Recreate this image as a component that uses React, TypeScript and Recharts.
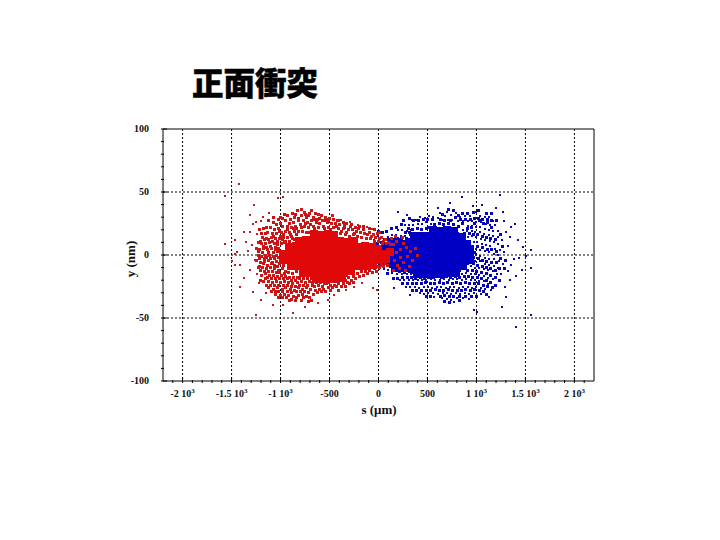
import React from "react";
import { ScatterChart, Scatter, XAxis, YAxis, CartesianGrid } from "recharts";

type P = [number, number];

const title = "正面衝突";
const xTicks = [-2100,-2000,-1900,-1800,-1700,-1600,-1500,-1400,-1300,-1200,-1100,-1000,-900,-800,-700,-600,-500,-400,-300,-200,-100,0,100,200,300,400,500,600,700,800,900,1000,1100,1200,1300,1400,1500,1600,1700,1800,1900,2000,2100];
const xMajor = [-2000,-1500,-1000,-500,0,500,1000,1500,2000];
const xBase = ["-2 10","-1.5 10","-1 10","-500","0","500","1 10","1.5 10","2 10"];
const xExp = ["3","3","3","","","","3","3","3"];
const yTicks = [-100,-90,-80,-70,-60,-50,-40,-30,-20,-10,0,10,20,30,40,50,60,70,80,90,100];
const yMajor = [-100,-50,0,50,100];

const redOuter: P[] = [[-1420,56],[-1570,47],[-1275,40],[-1030,45],[-980,46],[-1255,-48],[-870,-46],[-980,-40],[-1080,-40],[-755,-41],[-1570,9],[-1500,-5],[-1470,1],[-1445,2],[-1410,-25],[-1370,-18],[-1470,-8],[-1410,-8],[-1315,18],[-1285,25],[-1255,26],[-1315,32],[-1375,18],[-1350,10],[-1470,12],[-1195,-36],[-1285,-29],[-1310,-12],[-1330,3],[-1290,8],[-1265,-4],[-1240,17],[-1225,-22],[-1240,-15],[-1200,27],[-1180,30],[-1150,-30],[-1120,33],[-620,-38],[-520,-36],[-450,-32],[-330,-28],[-250,-25],[-170,-22],[-60,-26],[-20,-28],[-380,28],[-290,26],[-210,24],[-120,22],[-70,21]];

const redCoreMarks: P[] = [
[-660,17],[-590,16],[-520,17],[-450,16],
[-810,11],[-740,12],[-670,11],[-600,11],[-530,12],[-460,11],[-390,11],[-320,10],[-250,11],
[-910,6],[-840,7],[-770,6],[-700,6],[-630,6],[-560,6],[-490,6],[-420,7],[-350,6],[-280,6],[-210,6],[-140,7],[-70,6],[-10,5],
[-980,1],[-910,1],[-840,1],[-770,1],[-700,1],[-630,1],[-560,1],[-490,1],[-420,1],[-350,1],[-280,1],[-210,1],[-140,1],[-70,1],[0,1],[70,1],[120,2],
[-970,-4],[-900,-4],[-830,-4],[-760,-4],[-690,-4],[-620,-4],[-550,-4],[-480,-4],[-410,-4],[-340,-4],[-270,-4],[-200,-4],[-130,-4],[-60,-4],[10,-4],[80,-3],
[-890,-9],[-820,-9],[-750,-9],[-680,-9],[-610,-9],[-540,-9],[-470,-9],[-400,-9],[-330,-9],[-260,-9],[-190,-9],[-120,-9],[-60,-8],
[-770,-14],[-700,-14],[-630,-14],[-560,-14],[-490,-14],[-420,-14],[-350,-14],[-280,-13],
[-640,-19],[-570,-19],[-500,-19],[-430,-19],[-370,-18]
];

const redHalo: P[] = [
[-790,36],[-760,34],[-830,35],[-700,33],[-680,35],[-640,33],[-610,32],[-860,30],[-790,31],[-735,30],[-660,30],[-585,31],[-540,30],[-500,29],[-465,31],[-420,27],[-900,28],[-950,27],[-1000,25],[-1045,24],[-870,26],[-820,27],[-770,27],[-720,26],[-680,27],[-630,26],[-575,27],[-525,26],[-480,25],[-440,25],[-395,24],[-345,24],
[-1100,22],[-1060,20],[-1020,21],[-975,23],[-930,23],[-890,22],[-850,23],[-800,24],[-760,23],[-710,22],[-660,23],[-610,22],[-560,23],[-510,22],[-455,22],[-405,21],[-360,21],[-310,20],[-265,20],[-225,19],[-180,18],[-140,17],[-95,18],[-50,16],[-10,17],[30,14],[70,12],
[-1130,18],[-1085,17],[-1040,17],[-990,18],[-945,19],[-905,18],[-860,19],[-815,19],[-775,19],[-735,18],[-700,18],[-385,17],[-340,16],[-300,15],[-260,16],[-215,15],[-170,14],[-125,13],[-85,13],[-40,11],[0,11],[40,9],[85,9],[125,8],
[-1180,14],[-1140,13],[-1095,14],[-1050,13],[-1010,13],[-965,14],[-925,14],[-880,13],[-1225,10],[-1190,9],[-1150,9],[-1110,10],[-1065,9],[-1030,8],[-990,9],[-955,10],[-1250,5],[-1210,4],[-1170,5],[-1135,4],[-1095,5],[-1055,4],[-1020,5],[-1230,0],[-1195,-1],[-1155,0],[-1110,0],[-1075,-1],[-1040,0],[-1250,-4],[-1205,-6],[-1160,-5],[-1120,-4],[-1080,-6],[-1040,-5],[-1010,-7],
[-1225,-10],[-1180,-10],[-1140,-11],[-1100,-10],[-1060,-11],[-1020,-12],[-985,-11],[-945,-13],[-1195,-16],[-1150,-15],[-1110,-16],[-1070,-16],[-1030,-17],[-990,-16],[-945,-17],[-905,-18],[-865,-18],[-825,-18],
[-1170,-21],[-1125,-21],[-1085,-22],[-1040,-21],[-1000,-22],[-955,-21],[-915,-22],[-875,-23],[-830,-22],[-790,-21],[-750,-22],[-705,-21],[-670,-22],[-1120,-26],[-1075,-27],[-1030,-26],[-985,-27],[-945,-26],[-900,-27],[-860,-28],[-815,-26],[-775,-27],[-735,-26],[-690,-27],[-650,-25],[-610,-24],[-570,-25],[-530,-23],[-490,-24],[-445,-24],[-405,-23],[-360,-23],[-320,-22],[-280,-20],[-235,-19],[-195,-17],[-150,-16],[-110,-15],[-65,-14],[-25,-13],[15,-10],[55,-9],[95,-8],
[-1050,-31],[-1005,-32],[-960,-31],[-915,-32],[-870,-33],[-820,-32],[-775,-31],[-730,-33],[-700,-34],[-665,-31],[-625,-30],[-585,-29],[-540,-29],[-495,-28],[-405,-28],[-910,-36],[-850,-36],[-790,-36],
[150,8],[185,11],[220,4],[255,9],[290,6],[330,3],[375,5],[160,-4],[190,-8],[225,-2],[260,-6],[300,-1],[345,-4],[395,0],[180,2],[210,-11],[150,-12],[130,13],[170,15],[240,14],[280,-12],[320,-9]
];

const redFill: P[] = [
[-905,25],[-842,21],[-812,29],[-781,22],[-745,25],[-693,24],[-652,21],[-622,28],[-598,25],[-553,21],[-517,28],[-488,20],[-432,23],[-378,19],[-352,22],[-328,18],[-287,23],[-244,17],[-203,21],[-158,20],[-112,16],[-74,15],[-33,14],[12,13],[54,11],[102,10],
[-1012,19],[-968,16],[-928,20],[-894,16],[-872,21],[-838,16],[-1075,15],[-1035,11],[-1002,15],[-978,12],[-948,11],[-912,11],[-885,15],[-858,12],[-1122,12],[-1098,7],[-1078,11],[-1048,6],[-1002,3],[-1032,3],[-1068,2],[-1125,2],[-1148,6],[-1182,2],[-1165,-3],[-1142,-2],[-1098,-3],[-1058,-3],[-1022,-2],[-1178,7],[-1205,11],[-1168,12],
[-1138,-8],[-1095,-7],[-1058,-8],[-1028,-9],[-998,-4],[-1175,-7],[-1200,-12],[-1162,-13],[-1122,-13],[-1082,-13],[-1042,-14],[-1008,-14],[-968,-8],[-958,-15],[-922,-14],[-882,-15],[-842,-13],[-1130,-18],[-1090,-19],[-1052,-19],[-1012,-19],[-972,-19],[-925,-19],[-885,-20],[-845,-20],[-805,-19],[-768,-19],[-728,-19],[-688,-19],
[-1145,-24],[-1098,-24],[-1058,-24],[-1018,-24],[-972,-24],[-928,-24],[-888,-25],[-845,-25],[-802,-24],[-762,-24],[-722,-24],[-678,-24],[-632,-22],[-592,-22],[-552,-23],[-512,-22],[-470,-21],[-428,-21],[-385,-20],[-340,-20],[-302,-18],[-258,-17],[-218,-15],[-172,-13],[-132,-13],[-88,-12],[-45,-11],[-5,-9],[35,-8],[75,-7],
[-1095,-29],[-1052,-29],[-1018,-29],[-975,-29],[-932,-29],[-888,-30],[-838,-29],[-795,-29],[-752,-29],[-712,-30],[-645,-28],[-602,-27],[-558,-27],[-515,-26],[-472,-26],[-425,-25],[-382,-25],[-340,-25],[-298,-23],[-255,-22],[-1022,-34],[-978,-34],[-938,-34],[-885,-35],[-838,-34],[-765,-34],[-718,-37],[-680,-36],
[-1025,28],[-975,29],[-925,31],[-880,33],[-845,32],[-750,32],[-715,31],[-650,28],[-605,29],[-555,27],[-510,27],[-458,28],[-405,27],[-362,26],[-322,25],[-272,24],[-235,22],[-195,23],[-150,23],[-90,21],[-38,20],[15,18],
[-1075,26],[-1120,27],[-1145,22],[-1170,21],[-1215,20],[-1198,17],[-1158,17],[-1225,3],[-1218,-3],[-1212,-9],[-1200,-20],[-1155,-19],[-1075,30],[-1005,30],[-955,32]
];

const blueCoreMarks: P[] = [
[560,20],[630,19],[700,20],[770,19],
[360,15],[430,15],[500,15],[570,14],[640,15],[710,14],[780,15],[850,14],
[130,10],[200,10],[270,9],[340,10],[410,10],[480,10],[550,10],[620,10],[690,10],[760,10],[830,10],[900,9],
[20,5],[90,5],[160,5],[230,5],[300,5],[370,5],[440,5],[510,5],[580,5],[650,5],[720,5],[790,5],[860,5],[930,5],
[20,0],[90,0],[160,0],[230,0],[300,0],[370,0],[440,0],[510,0],[580,0],[650,0],[720,0],[790,0],[860,0],[930,0],
[40,-5],[110,-5],[180,-5],[250,-5],[320,-5],[390,-5],[460,-5],[530,-5],[600,-5],[670,-5],[740,-5],[810,-5],[880,-5],[930,-4],
[170,-10],[240,-10],[310,-10],[380,-10],[450,-10],[520,-10],[590,-10],[660,-10],[730,-10],[800,-10],[860,-9],
[390,-15],[460,-15],[530,-15],[600,-15],[670,-15],[740,-14],[790,-14]
];

const blueHalo: P[] = [
[735,41],[610,37],[195,34],[295,32],[960,39],[1060,40],[1200,37],[1275,34],[855,46],[1245,48],[1395,25],[1560,4],[1560,-10],[1460,-12],[1305,-33],[1290,-25],[1260,-41],[1560,-48],[1400,-57],[1010,-45],[975,-44],[325,-32],[160,-26],[570,-33],[775,-37],[1345,14],[1420,12],[1480,6],[1510,-1],[1430,-2],[1385,-3],[1350,-8],[1320,-13],[1400,-17],[1340,-20],[1300,18],[1350,22],[1280,27],[1320,7],
[700,34],[740,32],[675,31],[630,33],[790,33],[835,30],[880,31],[930,31],[1000,34],[1040,31],[1085,30],[1130,30],[1170,27],[560,30],[520,31],[470,29],[425,30],[385,28],[340,28],[605,29],[650,28],[705,28],[755,28],[810,27],[860,27],[910,27],[955,27],[1000,26],[1050,26],[1095,25],[1140,24],[1185,24],
[270,24],[310,24],[355,24],[400,25],[445,25],[490,26],[540,25],[910,23],[950,23],[995,22],[1040,22],[1085,21],[1130,20],[1170,19],[1215,19],[200,20],[240,20],[290,19],[330,20],[860,20],[905,19],[950,19],[990,18],[1035,18],[1080,17],[1125,16],[1170,15],[1220,14],[1260,12],[140,16],[180,16],[225,15],[270,15],[320,16],[910,14],[955,15],[1000,14],[1045,13],[1090,12],[1135,11],[1180,10],[1225,9],[60,13],[100,14],[-10,15],[-50,12],[970,10],[1010,10],[1055,9],[1100,8],[1140,7],[1190,5],[1240,4],[995,5],[1040,4],[1085,3],[1130,2],[1175,1],[1220,0],[1280,2],[995,0],[1040,-1],[1085,-2],[1130,-3],[1180,-3],[1230,-5],[1270,-7],[990,-5],[1035,-5],[1085,-7],[1130,-8],[1180,-9],[1225,-10],[940,-9],[985,-10],[1030,-10],[1075,-11],[1120,-12],[1165,-13],[1210,-15],[1255,-15],[850,-15],[895,-14],[940,-15],[985,-15],[1030,-16],[1075,-17],[1120,-18],[1165,-19],
[100,-12],[140,-14],[60,-11],[0,-11],[-30,-9],[190,-15],[240,-15],[290,-15],[335,-15],[220,-20],[265,-20],[310,-20],[355,-20],[400,-20],[445,-20],[490,-20],[535,-19],[580,-20],[625,-20],[670,-19],[715,-20],[760,-19],[805,-19],[850,-20],[895,-19],[940,-20],[985,-20],[1030,-21],[1075,-21],[1120,-23],[280,-25],[325,-25],[370,-25],[415,-26],[460,-25],[505,-25],[550,-26],[595,-25],[640,-25],[685,-26],[730,-25],[775,-25],[820,-26],[865,-25],[910,-25],[955,-26],[1000,-25],[1045,-26],[1090,-27],[1145,-28],[420,-30],[465,-31],[510,-30],[555,-30],[610,-31],[655,-30],[700,-30],[745,-31],[790,-30],[835,-31],[880,-30],[925,-31],[980,-30],[1050,-31],[650,-34],[700,-35],[745,-36],[800,-34],[860,-34],[920,-35],[1130,-33]
];

const blueFill: P[] = [
[302,21],[352,20],[398,21],[442,20],[488,21],[522,22],[575,24],[622,25],[668,24],[718,25],[762,24],[812,23],[855,25],[905,21],[945,22],[985,25],[1030,27],[1072,25],[1115,26],[1155,22],
[278,18],[312,18],[880,17],[925,17],[968,16],[1012,16],[1058,15],[1102,14],[1148,13],[1198,12],[1242,16],[190,13],[235,13],[285,13],[310,12],[70,9],[30,10],[-15,9],[-60,8],[-85,4],[-70,-2],[-90,-6],[-60,-9],
[958,7],[975,2],[965,-2],[968,-7],[1015,7],[1060,6],[1108,4],[1150,4],[1018,-3],[1062,-4],[1105,-5],[1152,-6],[1202,-6],[1248,-3],[1295,-4],[1200,3],[1262,7],[1010,-8],[1058,-9],[1105,-10],[1148,-11],[1192,-12],[1240,-11],[1282,-11],
[905,-12],[962,-12],[1005,-13],[1052,-14],[1098,-15],[1142,-16],[1190,-18],[1232,-20],[875,-17],[918,-17],[962,-18],[1008,-18],[1052,-19],[1098,-20],[1145,-22],[1190,-24],
[210,-13],[262,-14],[312,-13],[350,-14],[120,-9],[90,-15],[150,-19],[198,-19],[245,-18],[292,-18],[335,-18],[378,-19],[425,-18],[468,-19],[510,-18],[558,-18],[602,-17],[648,-18],[692,-17],[738,-18],[782,-17],[828,-18],
[240,-23],[295,-23],[345,-23],[392,-23],[438,-23],[482,-22],[528,-23],[572,-23],[618,-22],[662,-23],[708,-22],[752,-23],[798,-22],[842,-23],[888,-22],[932,-23],[978,-23],[1022,-23],[1068,-24],[1112,-25],[1160,-26],
[348,-28],[392,-28],[440,-28],[485,-28],[532,-28],[578,-27],[622,-28],[668,-28],[712,-27],[758,-28],[802,-28],[848,-28],[892,-27],[938,-28],[985,-27],[1028,-28],[1072,-29],[1105,-31],[485,-33],[535,-33],[628,-33],[675,-32],[722,-33],[768,-33],[825,-33],[885,-33],[945,-33],[1005,-33],[672,-37],[722,-38],[822,-36],
[315,29],[362,27],[408,27],[455,28],[505,28],[548,28],[628,28],[678,27],[732,27],[782,30],[835,28],[885,28],[935,28],[978,29],[1018,29],[1062,28],[1112,28],[1155,27],[1205,27],[255,27],[230,24],[180,22],[135,21],[85,19],[45,18],[0,19],[655,32],[715,36],[762,35],[815,31],[862,33],[905,33],[965,34],[1025,35],[1105,33],[1150,33]
];

const toRows = (pts: P[]) => pts.map(([s, y]) => ({ s, y }));

const serif = "'Liberation Serif', serif";
const PX = 2;
const FILLPX = 3;
const COREPX = 8;

const Dot = (fill: string, size: number) => (p: any) => (
  <rect x={Math.round(p.cx - size / 2)} y={Math.round(p.cy - size / 2)} width={size} height={size} fill={fill} />
);

const BottomTick = ({ x, y, payload }: any) => {
  const i = xMajor.indexOf(payload.value);
  const major = i >= 0;
  return (
    <g>
      <line x1={x} x2={x} y1={y} y2={y - (major ? 6 : 3)} stroke="#000" />
      {major && (
        <text x={x} y={y + 14} textAnchor="middle" fontFamily={serif} fontSize={10} fontWeight="bold" fill="#111">
          {xBase[i]}
          {xExp[i] && <tspan dy={-4} fontSize={7}>{xExp[i]}</tspan>}
        </text>
      )}
    </g>
  );
};
const TopTick = ({ x, y, payload }: any) => (
  <line x1={x} x2={x} y1={y} y2={y + (xMajor.includes(payload.value) ? 6 : 3)} stroke="#000" />
);
const LeftTick = ({ x, y, payload }: any) => {
  const major = yMajor.includes(payload.value);
  return (
    <g>
      <line x1={x} x2={x + (major ? 6 : 3)} y1={y} y2={y} stroke="#000" />
      {major && (
        <text x={x - 12} y={y + 3} textAnchor="end" fontFamily={serif} fontSize={10} fontWeight="bold" fill="#111">
          {payload.value}
        </text>
      )}
    </g>
  );
};
const RightTick = ({ x, y, payload }: any) => (
  <line x1={x} x2={x - (yMajor.includes(payload.value) ? 6 : 3)} y1={y} y2={y} stroke="#000" />
);

export default function App() {
  return (
    <div style={{ position: "absolute", left: 0, top: 0, width: 720, height: 540, background: "#fff", overflow: "hidden" }}>
      <div style={{ position: "absolute", left: 192, top: 60, fontFamily: "'Noto Sans CJK JP'", fontWeight: 900, fontSize: 31.5, lineHeight: "42px", color: "#000", whiteSpace: "nowrap", WebkitTextStroke: "0.5px #000" }}>
        {title}
      </div>
      <div style={{ position: "absolute", left: 0, top: 0 }}>
        <ScatterChart width={720} height={540} margin={{ top: 128, right: 125, bottom: 129, left: 133 }}>
          <CartesianGrid xAxisId="b" yAxisId="l" stroke="#000" strokeDasharray="2 2" horizontalValues={[-50, 0, 50]} verticalValues={[-2000, -1500, -1000, -500, 0, 500, 1000, 1500, 2000]} />
          <XAxis xAxisId="b" type="number" dataKey="s" domain={[-2200, 2200]} ticks={xTicks} interval={0} tick={<BottomTick />} tickLine={false} tickSize={0} height={30} stroke="#000" />
          <XAxis xAxisId="t" orientation="top" type="number" dataKey="s" domain={[-2200, 2200]} ticks={xTicks} interval={0} tick={<TopTick />} tickLine={false} height={1} tickSize={0} stroke="#000" />
          <YAxis yAxisId="l" type="number" dataKey="y" domain={[-100, 100]} ticks={yTicks} interval={0} tick={<LeftTick />} tickLine={false} tickSize={0} width={30} stroke="#000" />
          <YAxis yAxisId="r" orientation="right" type="number" dataKey="y" domain={[-100, 100]} ticks={yTicks} interval={0} tick={<RightTick />} tickLine={false} tickSize={0} width={1} stroke="#000" />
          <Scatter xAxisId="b" yAxisId="l" data={toRows(blueCoreMarks)} shape={Dot("#0000c4", COREPX)} isAnimationActive={false} />
          <Scatter xAxisId="b" yAxisId="l" data={toRows(blueFill)} shape={Dot("#0606b8", FILLPX)} isAnimationActive={false} />
          <Scatter xAxisId="b" yAxisId="l" data={toRows(blueHalo)} shape={Dot("#0a0ab4", PX)} isAnimationActive={false} />
          <Scatter xAxisId="b" yAxisId="l" data={toRows(redCoreMarks)} shape={Dot("#e00808", COREPX)} isAnimationActive={false} />
          <Scatter xAxisId="b" yAxisId="l" data={toRows(redFill)} shape={Dot("#d01010", FILLPX)} isAnimationActive={false} />
          <Scatter xAxisId="b" yAxisId="l" data={toRows(redHalo)} shape={Dot("#c81818", FILLPX)} isAnimationActive={false} />
          <Scatter xAxisId="b" yAxisId="l" data={toRows(redOuter)} shape={Dot("#b82020", PX)} isAnimationActive={false} />
        </ScatterChart>
      </div>
      <svg width={720} height={540} style={{ position: "absolute", left: 0, top: 0, pointerEvents: "none" }}>
        <text x={135} y={259} transform="rotate(-90 135 259)" textAnchor="middle" fontFamily={serif} fontSize={13} fontWeight="bold" fill="#111">y (nm)</text>
        <text x={379} y={414} textAnchor="middle" fontFamily={serif} fontSize={13} fontWeight="bold" fill="#111">s (μm)</text>
      </svg>
    </div>
  );
}
